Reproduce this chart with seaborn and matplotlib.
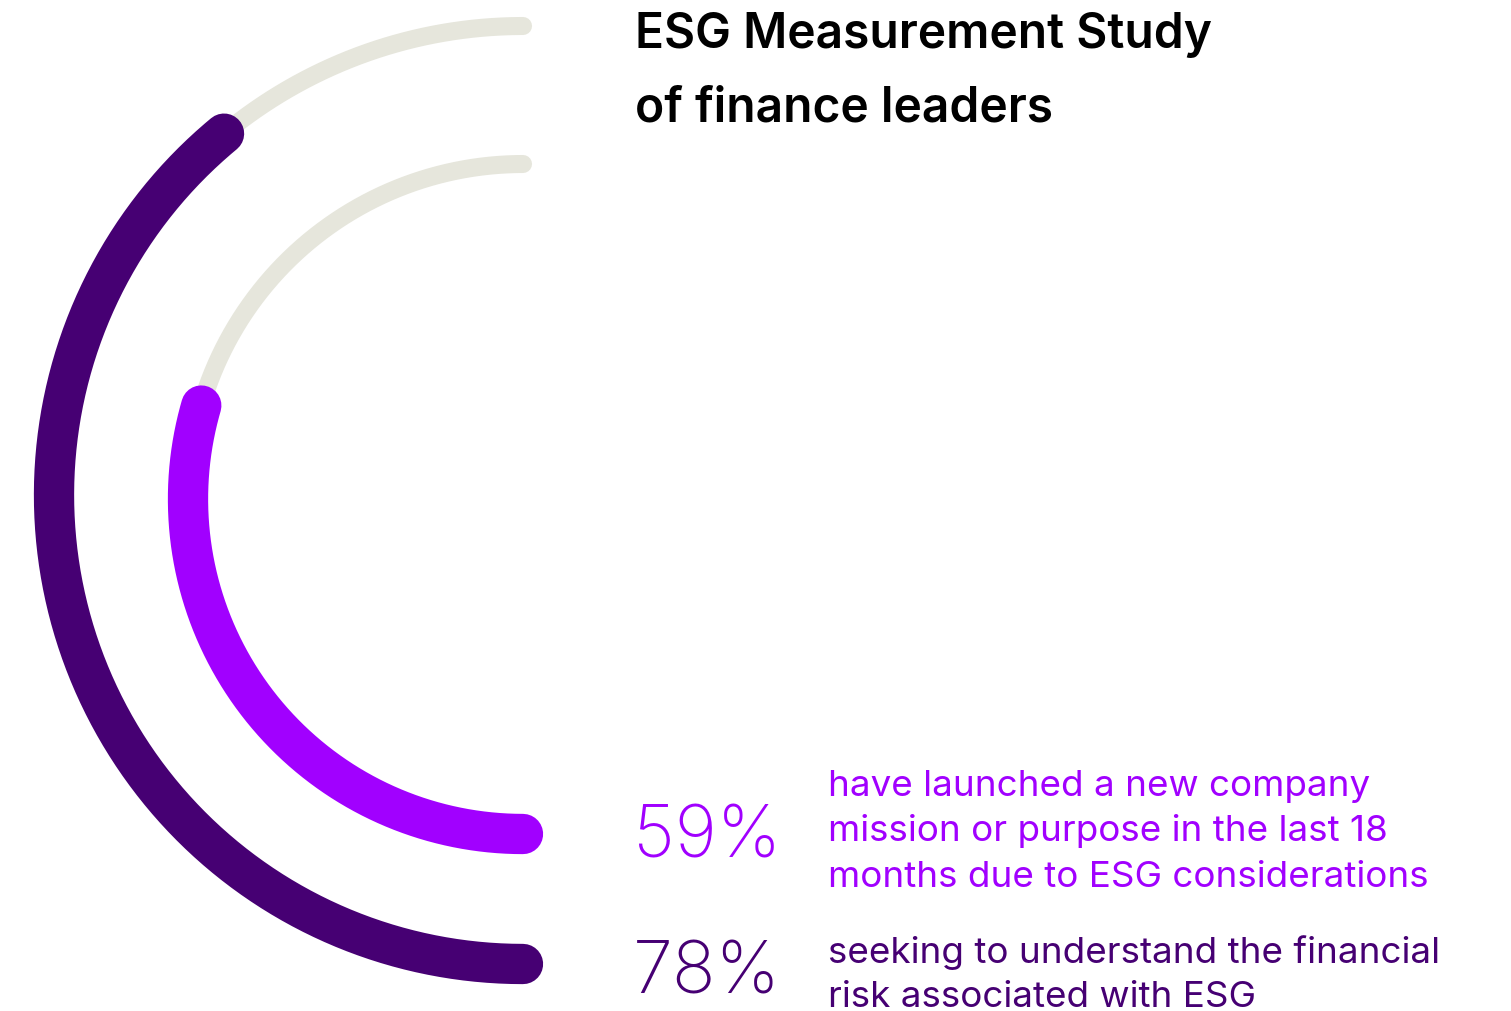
import numpy as np
import pandas as pd
import seaborn as sns
from matplotlib import pyplot as plt

# values
labels = ["78%", "59%"]
values = [78, 59]
descriptions = [
    ["seeking to understand the financial", "risk associated with ESG"],
    ["have launched a new company", "mission or purpose in the last 18",
     "months due to ESG considerations"],
]
colors = ["#460073", "#A100FF"]
track_color = "#E6E6DC"
title = ["ESG Measurement Study", "of finance leaders"]

sns.set_theme(style="white")
plt.rcParams["font.family"] = ["Inter", "DejaVu Sans"]

W, H = 1511, 1012
fig = plt.figure(figsize=(W / 100, H / 100), dpi=100)
ax = fig.add_axes([0, 0, 1, 1])
ax.set_xlim(0, W)
ax.set_ylim(H, 0)
ax.set_axis_off()

cx = 523
centres_y = [496, 500]
radii = [469, 335]


def arc(r, cy, start, stop):
    # 0% sits at the bottom, 100% at the top, going round the left side
    t = np.radians(np.linspace(start, stop, 300) * 1.8)
    return pd.DataFrame({"x": cx - r * np.sin(t), "y": cy + r * np.cos(t)})


for r, cy, v, c in zip(radii, centres_y, values, colors):
    track = arc(r, cy, v, 100)
    sns.lineplot(data=track, x="x", y="y", sort=False, estimator=None, ax=ax,
                 color=track_color, lw=13, solid_capstyle="round")
    bar = arc(r, cy, 0, v)
    sns.lineplot(data=bar, x="x", y="y", sort=False, estimator=None, ax=ax,
                 color=c, lw=29, solid_capstyle="round")


def lines(x, y0, step, rows, **kw):
    for i, row in enumerate(rows):
        ax.text(x, y0 + i * step, row, va="baseline", ha="left", **kw)


lines(635, 48, 73, title, fontsize=34.5, fontweight="semibold", color="black")

ax.text(633, 858, labels[1], fontsize=52, fontweight="light", color=colors[1],
        va="baseline", ha="left")
lines(828, 796, 45.5, descriptions[1], fontsize=26.5, color=colors[1])

ax.text(633, 994, labels[0], fontsize=52, fontweight="light", color=colors[0],
        va="baseline", ha="left")
lines(828, 963, 44, descriptions[0], fontsize=26.5, color=colors[0])

fig.savefig("out.png", dpi=100)
